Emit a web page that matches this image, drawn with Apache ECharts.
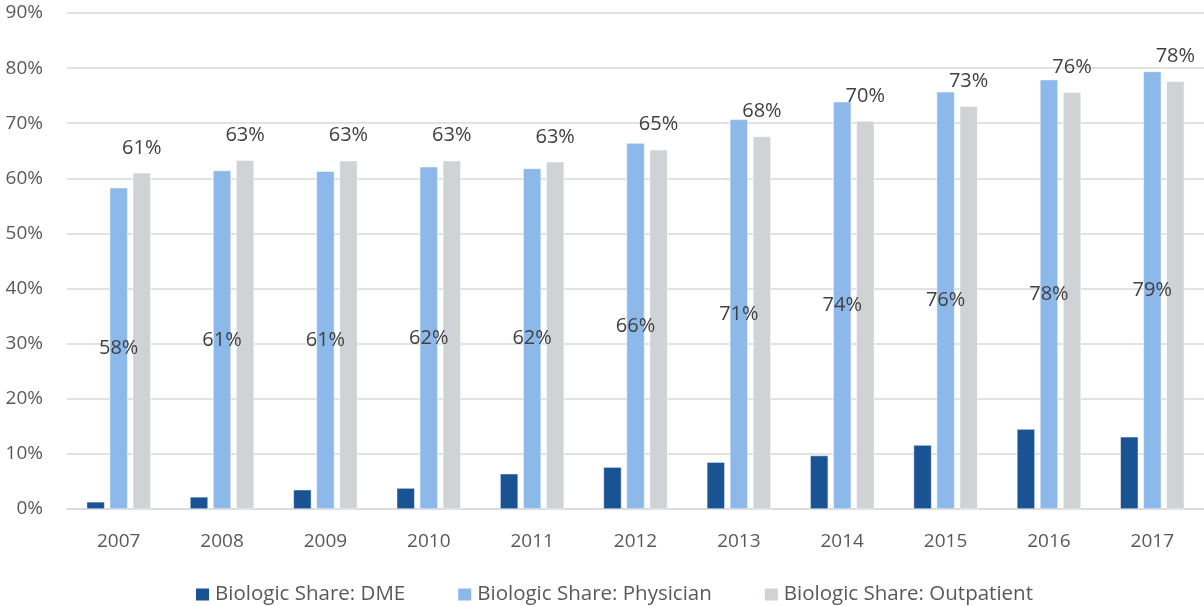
<!DOCTYPE html>
<html>
<head>
<meta charset="utf-8">
<script src="https://cdn.jsdelivr.net/npm/echarts@6/dist/echarts.min.js"></script>
<style>
	html, body { margin: 0; padding: 0; background: #fff; }
	#chart { width: 1204px; height: 606px; }
</style>
</head>
<body>
<div id="chart"></div>
<script>
var years = ['2007', '2008', '2009', '2010', '2011', '2012', '2013', '2014', '2015', '2016', '2017'];
var dmeShare = [1.3, 2.2, 3.5, 3.8, 6.4, 7.6, 8.5, 9.7, 11.6, 14.5, 13.1];
var physicianShare = [58.3, 61.4, 61.3, 62.1, 61.8, 66.4, 70.7, 73.9, 75.7, 77.9, 79.4];
var outpatientShare = [61.0, 63.3, 63.2, 63.2, 63.0, 65.2, 67.6, 70.4, 73.1, 75.6, 77.6];
var seriesNames = ['Biologic Share: DME', 'Biologic Share: Physician', 'Biologic Share: Outpatient'];

var COLORS = {
	dme: '#1a5393',
	physician: '#8cb9ea',
	outpatient: '#d0d3d6',
	text: '#595959',
	label: '#404040',
	grid: '#d9d9d9'
};

var FONT = '"Open Sans", sans-serif';

function pct(p) {
	return Math.round(p.value) + '%';
}

var myChart = echarts.init(document.getElementById('chart'));

var option = {
	animation: false,
	textStyle: { fontFamily: FONT },
	grid: {
		left: 67,
		right: 0,
		top: 13,
		bottom: 97
	},
	legend: {
		left: 189,
		top: 579,
		itemWidth: 15,
		itemHeight: 14,
		itemGap: 51,
		icon: 'rect',
		textStyle: {
			fontFamily: FONT,
			fontSize: 20.5,
			color: COLORS.text
		},
		data: seriesNames
	},
	xAxis: [{
		type: 'category',
		data: years,
		axisTick: { show: false },
		axisLine: { lineStyle: { color: COLORS.grid, width: 1.5 } },
		axisLabel: {
			color: COLORS.text,
			fontSize: 19,
			margin: 23
		}
	}],
	yAxis: [{
		type: 'value',
		min: 0,
		max: 90,
		interval: 10,
		axisLine: { show: false },
		axisTick: { show: false },
		splitLine: { lineStyle: { color: COLORS.grid, width: 1.5 } },
		axisLabel: {
			color: COLORS.text,
			fontSize: 19,
			margin: 24,
			formatter: '{value}%'
		}
	}],
	series: [
		{
			name: seriesNames[0],
			type: 'bar',
			barWidth: 18,
			barGap: '28%',
			itemStyle: { color: COLORS.dme, borderColor: '#ffffff', borderWidth: 0.5 },
			data: dmeShare
		},
		{
			name: seriesNames[1],
			type: 'bar',
			barWidth: 18,
			barGap: '28%',
			itemStyle: { color: COLORS.physician, borderColor: '#ffffff', borderWidth: 0.5 },
			label: {
				show: true,
				position: 'inside',
				color: COLORS.label,
				fontSize: 20,
				formatter: pct
			},
			data: physicianShare
		},
		{
			name: seriesNames[2],
			type: 'bar',
			barWidth: 18,
			barGap: '28%',
			itemStyle: { color: COLORS.outpatient, borderColor: '#ffffff', borderWidth: 0.5 },
			label: {
				show: true,
				position: 'top',
				distance: 15,
				color: COLORS.label,
				fontSize: 20,
				formatter: pct
			},
			data: outpatientShare
		}
	]
};

myChart.setOption(option);
</script>
</body>
</html>
